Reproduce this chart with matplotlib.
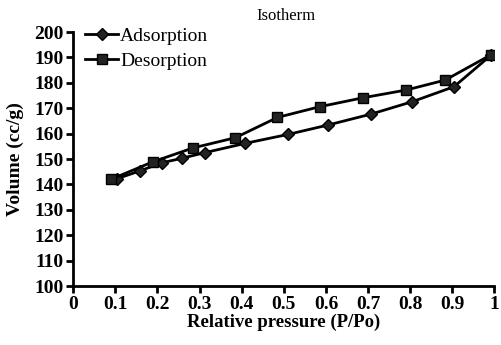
import numpy as np
import matplotlib
matplotlib.use('Agg')
import matplotlib.pyplot as plt

plt.rcParams['font.family'] = 'Liberation Serif'

# adsorption branch
p_ads = [0.103, 0.158, 0.21, 0.258, 0.312, 0.409, 0.51, 0.605, 0.707, 0.805, 0.904, 0.991]
v_ads = [142.2, 145.3, 148.5, 150.3, 152.5, 156.2, 159.7, 163.4, 167.7, 172.6, 178.5, 190.8]

# desorption branch
p_des = [0.991, 0.883, 0.791, 0.687, 0.585, 0.485, 0.385, 0.285, 0.189, 0.091]
v_des = [191.0, 181.1, 177.2, 174.1, 170.6, 166.4, 158.4, 154.4, 148.9, 142.1]

xticks = np.arange(0, 1.05, 0.1)
xlabels = ['0', '0.1', '0.2', '0.3', '0.4', '0.5', '0.6', '0.7', '0.8', '0.9', '1']
yticks = np.arange(100, 201, 10)

fig = plt.figure(figsize=(5.01, 3.45), dpi=100)
ax = fig.add_axes([0.146, 0.171, 0.841, 0.736])

ax.plot(p_ads, v_ads, color='black', lw=2, marker='D', ms=6, mfc='#222222', mec='black', label='Adsorption')
ax.plot(p_des, v_des, color='black', lw=2, marker='s', ms=7, mfc='#222222', mec='black', label='Desorption')

ax.set_xlim(0, 1)
ax.set_ylim(100, 200)
ax.set_xticks(xticks)
ax.set_xticklabels(xlabels)
ax.set_yticks(yticks)
for s in ['top', 'right']:
    ax.spines[s].set_visible(False)
for s in ['left', 'bottom']:
    ax.spines[s].set_linewidth(2)
ax.tick_params(direction='out', length=5, width=2, labelsize=14, pad=2)
for lab in ax.get_xticklabels() + ax.get_yticklabels():
    lab.set_fontweight('bold')

ax.set_xlabel('Relative pressure (P/Po)', fontsize=13.5, fontweight='bold', labelpad=1)
ax.set_ylabel('Volume (cc/g)', fontsize=14, fontweight='bold', labelpad=7)
fig.text(0.57, 0.955, 'Isotherm', ha='center', va='center', fontsize=12)

ax.legend(loc='upper left', bbox_to_anchor=(0.17, 0.92), bbox_transform=fig.transFigure,
          frameon=False, fontsize=14, handlelength=1.7, handletextpad=0.1,
          labelspacing=0.38, borderpad=0, borderaxespad=0)

fig.savefig('out.png', dpi=100)
